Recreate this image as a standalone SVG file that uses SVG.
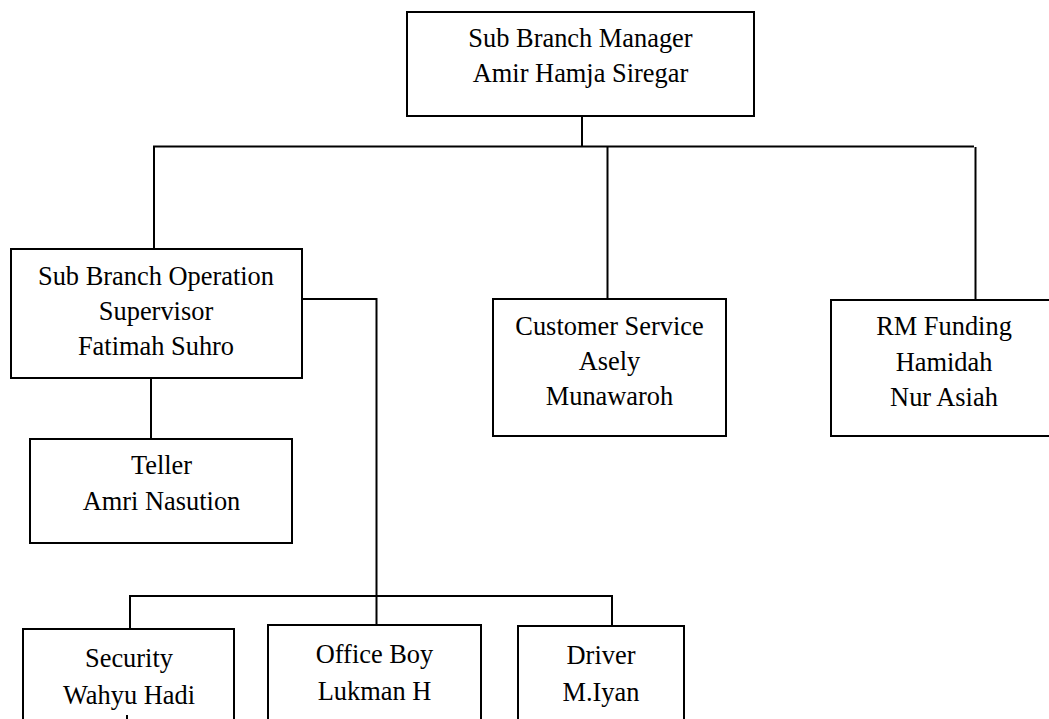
<svg xmlns="http://www.w3.org/2000/svg" width="1049" height="719" viewBox="0 0 1049 719">
<style>
.box{fill:#fff;stroke:#000;stroke-width:2}
.ln{fill:none;stroke:#000;stroke-width:2}
text{font-family:"Liberation Serif","Times New Roman",serif;font-size:26.4px;fill:#000;text-anchor:middle}
</style>
<rect width="1049" height="719" fill="#fff"/>
<g id="connectors">
<line class="ln" x1="582" y1="116" x2="582" y2="147"/>
<line class="ln" x1="153" y1="146.5" x2="974" y2="146.5"/>
<line class="ln" x1="154" y1="146" x2="154" y2="249"/>
<line class="ln" x1="607.5" y1="147" x2="607.5" y2="299"/>
<line class="ln" x1="975.5" y1="147" x2="975.5" y2="300"/>
<line class="ln" x1="151" y1="378" x2="151" y2="439"/>
<polyline class="ln" points="302,299 376.5,299 376.5,625"/>
<polyline class="ln" points="130,629 130,596 612,596 612,626"/>
</g>
<g id="sub-branch-manager">
<rect class="box" x="407" y="12" width="347" height="104"/>
<text x="580.5" y="47">Sub Branch Manager</text>
<text x="580.5" y="82">Amir Hamja Siregar</text>
</g>
<g id="operation-supervisor">
<rect class="box" x="11" y="249" width="291" height="129"/>
<text x="156" y="285">Sub Branch Operation</text>
<text x="156" y="320">Supervisor</text>
<text x="156" y="355">Fatimah Suhro</text>
</g>
<g id="customer-service">
<rect class="box" x="493" y="299" width="233" height="137"/>
<text x="609.5" y="335">Customer Service</text>
<text x="609.5" y="370">Asely</text>
<text x="609.5" y="405">Munawaroh</text>
</g>
<g id="rm-funding">
<rect class="box" x="831" y="300" width="226" height="136"/>
<text x="944" y="335">RM Funding</text>
<text x="944" y="370.5">Hamidah</text>
<text x="944" y="406">Nur Asiah</text>
</g>
<g id="teller">
<rect class="box" x="30" y="439" width="262" height="104"/>
<text x="161.5" y="474">Teller</text>
<text x="161.5" y="510">Amri Nasution</text>
</g>
<g id="security">
<rect class="box" x="23" y="629" width="211" height="110"/>
<text x="129" y="667">Security</text>
<text x="129" y="704">Wahyu Hadi</text>
<line class="ln" x1="127" y1="715" x2="127" y2="719"/>
</g>
<g id="office-boy">
<rect class="box" x="268" y="625" width="213" height="110"/>
<text x="374.5" y="663">Office Boy</text>
<text x="374.5" y="700">Lukman H</text>
</g>
<g id="driver">
<rect class="box" x="518" y="626" width="166" height="110"/>
<text x="601" y="664">Driver</text>
<text x="601" y="701">M.Iyan</text>
</g>
</svg>
